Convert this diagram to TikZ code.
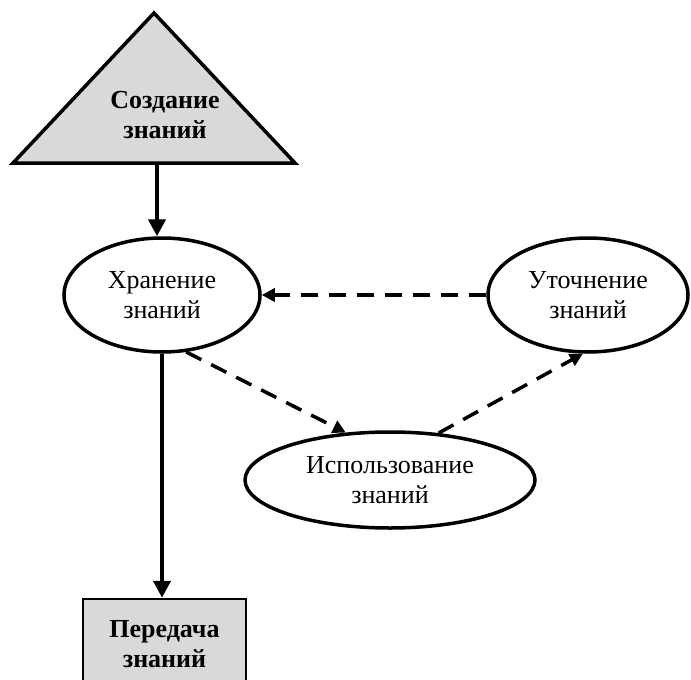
\documentclass[tikz,border=0pt]{standalone}
\usepackage{fontspec}
\setmainfont{Liberation Serif}
\usetikzlibrary{shapes.geometric,arrows.meta}
\definecolor{boxgray}{HTML}{D9D9D9}

\begin{document}
\begin{tikzpicture}[x=1pt, y=-1pt,
    stage/.style={ellipse, draw, line width=3.5pt, fill=white, inner sep=0pt,
      align=center, font=\fontsize{26}{30}\selectfont},
    flow/.style={line width=4.5pt, -{Triangle[length=17pt, width=17pt]}},
    feedback/.style={line width=3.5pt, dash pattern=on 17pt off 11pt,
      -{Triangle[length=13pt, width=13pt]}}]
  \useasboundingbox[fill=white] (0,0) rectangle (691,680);
  % knowledge creation
  \filldraw[fill=boxgray, line width=3.5pt, line join=miter] (13,163) -- (154,13) -- (295,163) -- cycle;
  \node[align=center, font=\bfseries\fontsize{26}{30}\selectfont] (create) at (165,115) {Создание\\знаний};
  \coordinate (createbase) at (157,163);
  % cycle of storage, use and refinement
  \node[stage, minimum width=196pt, minimum height=114pt] (store) at (162,295) {Хранение\\знаний};
  \node[stage, minimum width=200pt, minimum height=114pt] (refine) at (588,295) {Уточнение\\знаний};
  \node[stage, minimum width=290pt, minimum height=96pt] (use) at (390,480) {Использование\\знаний};
  % knowledge transfer
  \node[draw, fill=boxgray, line width=2.5pt, minimum width=163pt, minimum height=90pt, align=center,
    font=\bfseries\fontsize{26}{30}\selectfont] (transfer) at (164.5,644) {Передача\\знаний};
  \draw[flow] (createbase) -- (createbase |- store.north);
  \draw[flow] (store.south) -- (store.south |- transfer.north);
  \draw[feedback] (refine.west) -- (store.east);
  \draw[feedback] (store.-67) -- (use.133);
  \draw[feedback] (use.44) -- (refine.-95);
\end{tikzpicture}
\end{document}
